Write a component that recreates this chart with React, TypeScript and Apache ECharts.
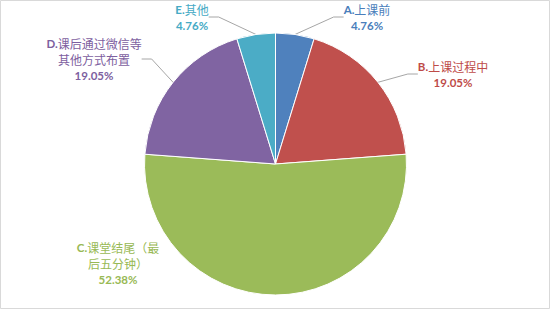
import React, { useEffect, useRef } from "react";
import * as echarts from "echarts";

const letters = ["A.", "B.", "C.", "D.", "E."];
const names = ["上课前", "上课过程中", "课堂结尾（最\n后五分钟）", "课后通过微信等\n其他方式布置", "其他"];
const percents = [4.76, 19.05, 52.38, 19.05, 4.76];
const sliceColors = ["#4F81BD", "#C0504D", "#9BBB59", "#8064A2", "#4BACC6"];
const textColors = ["#4a7ebb", "#be4b48", "#98b954", "#7d60a0", "#46aac5"];
const labelPos: [number, number][] = [
  [367, 17],
  [453, 74],
  [118, 263],
  [94, 59],
  [192, 17],
];

export default function App() {
  const ref = useRef<HTMLDivElement>(null);
  useEffect(() => {
    document.body.style.margin = "0";
    const chart = echarts.init(ref.current!, null, { renderer: "svg" });
    const font = "Lato, 'Noto Sans CJK SC', sans-serif";
    chart.setOption({
      animation: false,
      backgroundColor: "#ffffff",
      graphic: [
        {
          type: "rect",
          shape: { x: 0.5, y: 0.5, width: 549, height: 308 },
          style: { fill: "none", stroke: "#d9d9d9", lineWidth: 1 },
          silent: true,
        },
      ],
      series: [
        {
          type: "pie",
          center: [275.5, 164],
          radius: 131,
          startAngle: 90,
          clockwise: true,
          avoidLabelOverlap: false,
          itemStyle: { borderColor: "#ffffff", borderWidth: 1 },
          label: { show: true, position: "outside" },
          labelLine: { show: true, lineStyle: { color: "#a6a6a6", width: 1 }, length: 10, length2: 10 },
          labelLayout: (params: any) => {
            const p = labelPos[params.dataIndex];
            return { x: p[0], y: p[1], align: "center", verticalAlign: "middle" };
          },
          data: percents.map((v, i) => ({
            value: v,
            name: letters[i] + names[i].replace("\n", ""),
            itemStyle: { color: sliceColors[i] },
            labelLine: { show: i !== 2 },
            label: {
              formatter: `{b|${letters[i]}}{n|${names[i]}}\n{p|${v.toFixed(2)}%}`,
              align: "center",
              lineHeight: 16,
              rich: {
                b: { fontFamily: font, fontWeight: "bold", fontSize: 11.5, color: textColors[i], lineHeight: 16 },
                n: { fontFamily: "'Noto Sans CJK SC', sans-serif", fontSize: 12, color: textColors[i], lineHeight: 16 },
                p: { fontFamily: font, fontWeight: "bold", fontSize: 11.5, color: textColors[i], lineHeight: 16 },
              },
            },
          })),
        },
      ],
    });
    return () => chart.dispose();
  }, []);
  return <div ref={ref} style={{ width: 551, height: 310 }} />;
}
